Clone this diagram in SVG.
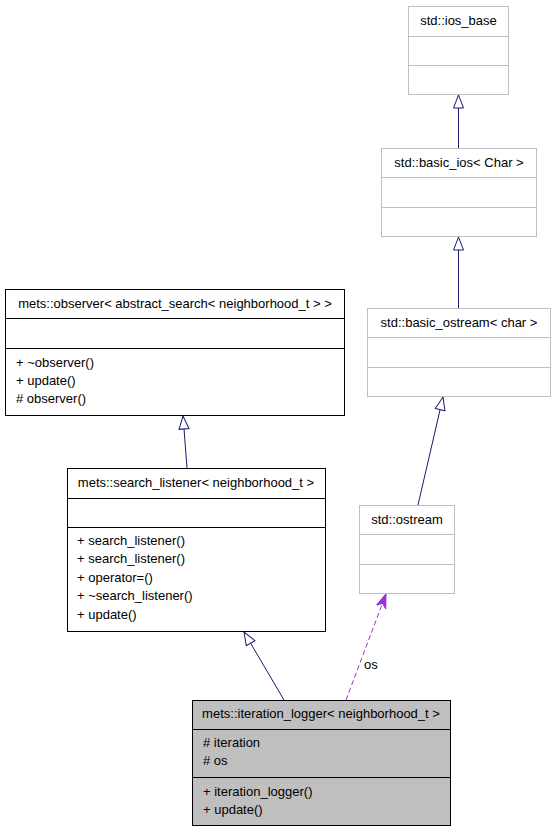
<svg xmlns="http://www.w3.org/2000/svg" width="555" height="832" viewBox="0 0 555 832">
<style>
text{font-family:"Liberation Sans",Arial,sans-serif;font-size:13px;fill:#000}
.t{text-anchor:middle}
.box{fill:#fff;stroke:#000;stroke-width:1}
.std{fill:#fff;stroke:#bfbfbf;stroke-width:1}
.cur{fill:#bfbfbf;stroke:#000;stroke-width:1}
.sep{stroke:#000;stroke-width:1}
.sepg{stroke:#bfbfbf;stroke-width:1}
.inh{stroke:#191970;stroke-width:1;fill:none;marker-end:url(#tri)}
.use{stroke:#9a32cd;stroke-width:1;fill:none;stroke-dasharray:5,3;marker-end:url(#vee)}
</style>
<defs>
<marker id="tri" markerUnits="userSpaceOnUse" markerWidth="15" markerHeight="12" viewBox="0 0 15 12" refX="14" refY="6" orient="auto">
<path d="M1,1 L14,6 L1,11 Z" fill="#fff" stroke="#191970" stroke-width="1"/>
</marker>
<marker id="vee" markerUnits="userSpaceOnUse" markerWidth="15" markerHeight="12" viewBox="0 0 15 12" refX="14" refY="6" orient="auto">
<path d="M0,1 L14,6 L0,11 L4,6 Z" fill="#9a32cd" stroke="#9a32cd" stroke-width="1"/>
</marker>
</defs>
<g id="connectors">
<line class="inh" x1="458.5" y1="148" x2="458.5" y2="95"/>
<line class="inh" x1="458.5" y1="308" x2="458.5" y2="237"/>
<line class="inh" x1="418" y1="505" x2="443" y2="397"/>
<line class="inh" x1="187" y1="468" x2="183" y2="416"/>
<line class="inh" x1="284" y1="700" x2="244" y2="632"/>
<line class="use" x1="346" y1="700" x2="386" y2="594"/>
<text x="364" y="669">os</text>
</g>
<g id="ios_base">
<rect class="std" x="408.5" y="6.5" width="100" height="88"/>
<line class="sepg" x1="408.5" y1="36.5" x2="508.5" y2="36.5"/>
<line class="sepg" x1="408.5" y1="65.5" x2="508.5" y2="65.5"/>
<text class="t" x="458.5" y="25">std::ios_base</text>
</g>
<g id="basic_ios">
<rect class="std" x="381.5" y="148.5" width="155" height="88"/>
<line class="sepg" x1="381.5" y1="177.5" x2="536.5" y2="177.5"/>
<line class="sepg" x1="381.5" y1="207.5" x2="536.5" y2="207.5"/>
<text class="t" x="459" y="167">std::basic_ios&lt; Char &gt;</text>
</g>
<g id="basic_ostream">
<rect class="std" x="367.5" y="308.5" width="183" height="88"/>
<line class="sepg" x1="367.5" y1="337.5" x2="550.5" y2="337.5"/>
<line class="sepg" x1="367.5" y1="367.5" x2="550.5" y2="367.5"/>
<text class="t" x="459" y="327">std::basic_ostream&lt; char &gt;</text>
</g>
<g id="ostream">
<rect class="std" x="359.5" y="505.5" width="95" height="88"/>
<line class="sepg" x1="359.5" y1="534.5" x2="454.5" y2="534.5"/>
<line class="sepg" x1="359.5" y1="564.5" x2="454.5" y2="564.5"/>
<text class="t" x="407" y="524">std::ostream</text>
</g>
<g id="observer">
<rect class="box" x="5.5" y="289.5" width="339" height="126"/>
<line class="sep" x1="5.5" y1="318.5" x2="344.5" y2="318.5"/>
<line class="sep" x1="5.5" y1="348.5" x2="344.5" y2="348.5"/>
<text class="t" x="175" y="308">mets::observer&lt; abstract_search&lt; neighborhood_t &gt; &gt;</text>
<text x="16" y="367">+ ~observer()</text>
<text x="16" y="385">+ update()</text>
<text x="16" y="403"># observer()</text>
</g>
<g id="search_listener">
<rect class="box" x="67.5" y="468.5" width="258" height="163"/>
<line class="sep" x1="67.5" y1="498.5" x2="325.5" y2="498.5"/>
<line class="sep" x1="67.5" y1="527.5" x2="325.5" y2="527.5"/>
<text class="t" x="196" y="487">mets::search_listener&lt; neighborhood_t &gt;</text>
<text x="77" y="545">+ search_listener()</text>
<text x="77" y="563">+ search_listener()</text>
<text x="77" y="582">+ operator=()</text>
<text x="77" y="600">+ ~search_listener()</text>
<text x="77" y="619">+ update()</text>
</g>
<g id="iteration_logger">
<rect class="cur" x="192.5" y="700.5" width="258" height="125"/>
<line class="sep" x1="192.5" y1="729.5" x2="450.5" y2="729.5"/>
<line class="sep" x1="192.5" y1="777.5" x2="450.5" y2="777.5"/>
<text class="t" x="321" y="718">mets::iteration_logger&lt; neighborhood_t &gt;</text>
<text x="203" y="747"># iteration</text>
<text x="203" y="765"># os</text>
<text x="203" y="796">+ iteration_logger()</text>
<text x="203" y="814">+ update()</text>
</g>
</svg>
